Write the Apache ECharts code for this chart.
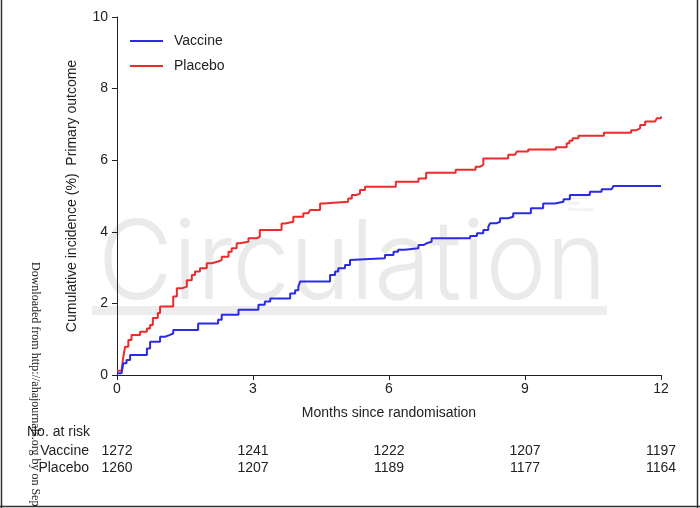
<!DOCTYPE html>
<html>
<head>
<meta charset="utf-8">
<script src="https://cdn.jsdelivr.net/npm/echarts@6/dist/echarts.min.js"></script>
<style>
html,body{margin:0;padding:0;background:#fff;}
#c{width:700px;height:508px;}
</style>
</head>
<body>
<div id="c"></div>
<script>
// ---- data ----
const xTicks = [0, 3, 6, 9, 12];
const placeboT = [0, 0.10, 0.14, 0.18, 0.25, 0.32, 0.51, 0.66, 0.73, 0.79, 0.90, 0.95, 1.24, 1.32, 1.43, 1.54, 1.65, 1.72, 1.83, 1.98, 2.09, 2.23, 2.31, 2.46, 2.53, 2.64, 2.71, 2.90, 3.08, 3.15, 3.63, 3.71, 3.89, 4.11, 4.22, 4.26, 4.48, 4.55, 5.10, 5.18, 5.29, 5.36, 5.47, 6.15, 6.65, 6.82, 7.47, 7.91, 8.01, 8.08, 8.63, 8.78, 8.82, 9.07, 9.68, 9.92, 9.98, 10.05, 10.18, 10.74, 11.34, 11.46, 11.54, 11.65, 11.87, 11.91, 12.0];
const placeboV = [0.12, 0.12, 0.51, 0.79, 0.98, 1.12, 1.21, 1.30, 1.40, 1.59, 1.73, 1.91, 2.19, 2.42, 2.47, 2.65, 2.79, 2.89, 2.98, 3.12, 3.17, 3.21, 3.30, 3.44, 3.54, 3.68, 3.72, 3.82, 3.86, 4.05, 4.23, 4.28, 4.42, 4.52, 4.56, 4.61, 4.79, 4.84, 4.93, 5.03, 5.07, 5.17, 5.26, 5.40, 5.49, 5.65, 5.73, 5.82, 5.87, 6.05, 6.15, 6.19, 6.24, 6.30, 6.36, 6.47, 6.54, 6.61, 6.68, 6.77, 6.84, 6.89, 6.98, 7.08, 7.12, 7.17, 7.22];
const vaccineT = [0, 0.10, 0.14, 0.21, 0.29, 0.66, 0.73, 0.95, 1.06, 1.17, 1.24, 1.79, 2.23, 2.31, 2.68, 3.12, 3.26, 3.38, 3.82, 3.93, 4.00, 4.04, 4.70, 4.81, 4.88, 5.03, 5.14, 5.18, 5.91, 6.10, 6.20, 6.35, 6.65, 6.76, 6.83, 6.94, 7.79, 7.94, 8.08, 8.19, 8.23, 8.38, 8.45, 8.63, 8.74, 9.13, 9.40, 9.66, 9.85, 9.99, 10.43, 10.69, 10.91, 10.95, 12.0];
const vaccineV = [0.05, 0.05, 0.33, 0.42, 0.56, 0.74, 0.93, 1.07, 1.12, 1.16, 1.26, 1.44, 1.54, 1.68, 1.82, 1.96, 2.05, 2.14, 2.28, 2.37, 2.47, 2.61, 2.79, 2.89, 2.98, 3.07, 3.21, 3.26, 3.35, 3.44, 3.50, 3.54, 3.63, 3.68, 3.72, 3.82, 3.88, 3.96, 4.05, 4.14, 4.24, 4.28, 4.38, 4.42, 4.52, 4.66, 4.79, 4.84, 4.91, 5.03, 5.12, 5.19, 5.21, 5.28, 5.28];
const riskTimes = [0, 3, 6, 9, 12];
const vaccineRisk = [1272, 1241, 1222, 1207, 1197];
const placeboRisk = [1260, 1207, 1189, 1177, 1164];
const seriesNames = ['Vaccine', 'Placebo'];

const FONT = '"Liberation Sans", Arial, sans-serif';
const FS = 14;
const AX = '#222';
const chart = echarts.init(document.getElementById('c'), null, {renderer: 'canvas'});

function pairs(t, v) { return t.map((x, i) => [x, v[i]]); }

const option = {
  animation: false,
  backgroundColor: '#fff',
  grid: {left: 117, right: 39, top: 17, bottom: 133, containLabel: false},
  legend: {
    orient: 'vertical', left: 130, top: 34, itemWidth: 33, itemHeight: 2, itemGap: 11,
    padding: 0, icon: 'rect',
    textStyle: {fontFamily: FONT, fontSize: FS, color: '#222', padding: [0, 0, 0, 6]},
    data: seriesNames
  },
  xAxis: {
    type: 'value', min: 0, max: 12, interval: 3,
    name: 'Months since randomisation', nameLocation: 'middle', nameGap: 31,
    nameTextStyle: {fontFamily: FONT, fontSize: FS, color: '#222'},
    axisLine: {lineStyle: {color: AX, width: 1}},
    axisTick: {show: true, length: 5, lineStyle: {color: AX}},
    axisLabel: {fontFamily: FONT, fontSize: FS, color: '#222', margin: 7},
    splitLine: {show: false}
  },
  yAxis: {
    type: 'value', min: 0, max: 10, interval: 2,
    name: 'Cumulative incidence (%)  Primary outcome', nameLocation: 'middle', nameGap: 38,
    nameTextStyle: {fontFamily: FONT, fontSize: FS, color: '#222'},
    axisLine: {show: true, lineStyle: {color: AX, width: 1}},
    axisTick: {show: true, length: 5, lineStyle: {color: AX}},
    axisLabel: {fontFamily: FONT, fontSize: FS, color: '#222', margin: 9},
    splitLine: {show: false}
  },
  series: [
    {
      name: seriesNames[1], type: 'line', step: 'end', symbol: 'none', z: 3,
      lineStyle: {color: '#ee2b2b', width: 2}, itemStyle: {color: '#ee2b2b'},
      data: pairs(placeboT, placeboV)
    },
    {
      name: seriesNames[0], type: 'line', step: 'end', symbol: 'none', z: 4,
      lineStyle: {color: '#2b2be6', width: 2}, itemStyle: {color: '#2b2be6'},
      data: pairs(vaccineT, vaccineV)
    }
  ]
};
chart.setOption(option);

// graphic overlay: watermark, at-risk table, borders
const g = [];
const tf = FS + 'px ' + FONT;
g.push({type: 'rect', z: -10, silent: true, shape: {x: 92, y: 306, width: 515, height: 9}, style: {fill: '#ededed'}});
g.push({type: 'text', z: -10, silent: true, x: 98, y: 321, scaleX: 0.935,
  style: {text: 'Circulation', font: '300 110px Inter, "Open Sans", sans-serif', fill: '#eaeaea', textVerticalAlign: 'bottom', textAlign: 'left'}});
g.push({type: 'text', z: -10, silent: true, x: 568, y: 195,
  style: {text: 'American\nHeart\nAssociation', font: '5px sans-serif', fill: '#e6e6e6', lineHeight: 6}});
g.push({type: 'text', z: 1, silent: true, x: 35, y: 262, rotation: -Math.PI / 2,
  style: {text: 'Downloaded from http://ahajournals.org by on Sep', font: '12px "Liberation Serif", "DejaVu Serif", serif', fill: '#222', textVerticalAlign: 'middle', textAlign: 'left'}});
g.push({type: 'text', z: 5, x: 27, y: 432, style: {text: 'No. at risk', font: tf, fill: '#222', textVerticalAlign: 'middle'}});
g.push({type: 'text', z: 5, x: 89, y: 451, style: {text: seriesNames[0], font: tf, fill: '#222', textAlign: 'right', textVerticalAlign: 'middle'}});
g.push({type: 'text', z: 5, x: 89, y: 468, style: {text: seriesNames[1], font: tf, fill: '#222', textAlign: 'right', textVerticalAlign: 'middle'}});
riskTimes.forEach((t, i) => {
  const px = chart.convertToPixel({xAxisIndex: 0}, t);
  g.push({type: 'text', z: 5, x: px, y: 451, style: {text: String(vaccineRisk[i]), font: tf, fill: '#222', textAlign: 'center', textVerticalAlign: 'middle'}});
  g.push({type: 'text', z: 5, x: px, y: 468, style: {text: String(placeboRisk[i]), font: tf, fill: '#222', textAlign: 'center', textVerticalAlign: 'middle'}});
});
g.push({type: 'line', z: 6, shape: {x1: 1.5, y1: 0, x2: 1.5, y2: 508}, style: {stroke: '#333', lineWidth: 1.5}});
g.push({type: 'line', z: 6, shape: {x1: 697.5, y1: 0, x2: 697.5, y2: 508}, style: {stroke: '#333', lineWidth: 1.5}});
g.push({type: 'line', z: 6, shape: {x1: 0, y1: 506.5, x2: 700, y2: 506.5}, style: {stroke: '#333', lineWidth: 1.5}});
chart.setOption({graphic: g});
</script>
</body>
</html>
